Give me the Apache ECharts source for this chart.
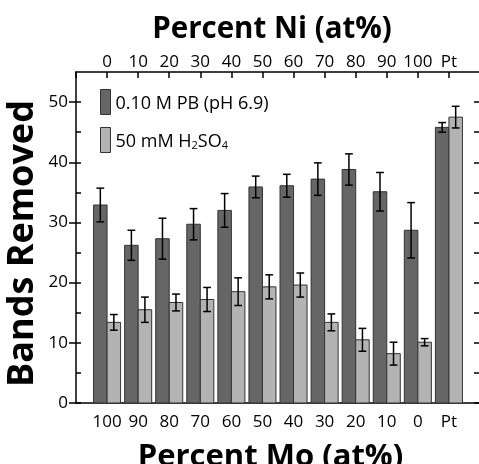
<!DOCTYPE html>
<html><head><meta charset="utf-8">
<script src="https://cdn.jsdelivr.net/npm/echarts@6/dist/echarts.min.js"></script>
<style>html,body{margin:0;padding:0;background:#fff}#c{width:479px;height:464px}</style>
</head><body><div id="c"></div>
<script>
const niLabels = ['0','10','20','30','40','50','60','70','80','90','100','Pt'];
const moLabels = ['100','90','80','70','60','50','40','30','20','10','0','Pt'];
const pbValues = [32.9,26.2,27.3,29.7,32.0,35.9,36.1,37.2,38.8,35.1,28.7,45.8];
const pbErrors = [2.8,2.5,3.4,2.6,2.8,1.8,1.9,2.7,2.6,3.2,4.6,0.8];
const acidValues = [13.4,15.5,16.7,17.2,18.5,19.3,19.6,13.4,10.5,8.2,10.1,47.5];
const acidErrors = [1.3,2.1,1.4,2.0,2.3,2.0,2.0,1.4,1.9,1.9,0.6,1.8];
const yMajorTicks = [0,10,20,30,40,50];
const yAllTicks = [0,5,10,15,20,25,30,35,40,45,50];
const pbName = '0.10 M PB (pH 6.9)';
const acidName = '50 mM H2SO4';

const FONT = 'Open Sans';
const chart = echarts.init(document.getElementById('c'));

function makeRender(side) {
  return function (params, api) {
    const i = api.value(0), v = api.value(1), e = api.value(2);
    const unit = api.size([1, 0])[0];
    const w = unit * 0.435;
    const top = api.coord([i, v]);
    const base = api.coord([i, 0]);
    const x0 = side < 0 ? top[0] - w : top[0];
    const cx = x0 + w / 2;
    const hi = api.coord([i, v + e])[1];
    const lo = api.coord([i, v - e])[1];
    const cap = unit * 0.125;
    const err = { stroke: '#000', lineWidth: 1.5 };
    return {
      type: 'group',
      children: [
        { type: 'rect', shape: { x: x0, y: top[1], width: w, height: base[1] - top[1] },
          style: { fill: api.visual('color'), stroke: '#333', lineWidth: 1 } },
        { type: 'line', shape: { x1: cx, y1: hi, x2: cx, y2: lo }, style: err },
        { type: 'line', shape: { x1: cx - cap, y1: hi, x2: cx + cap, y2: hi }, style: err },
        { type: 'line', shape: { x1: cx - cap, y1: lo, x2: cx + cap, y2: lo }, style: err }
      ]
    };
  };
}

const xCommon = {
  type: 'value', min: -1, max: 12, interval: 1,
  splitLine: { show: false },
  nameMoveOverlap: false,
  axisLine: { show: true, onZero: false, lineStyle: { color: '#000', width: 1.5 } }
};
const yCommon = {
  type: 'value', min: 0, max: 55,
  splitLine: { show: false },
  nameMoveOverlap: false
};

chart.setOption({
  animation: false,
  backgroundColor: '#fff',
  textStyle: { fontFamily: FONT },
  grid: { left: 76, right: -1, top: 72, bottom: 61, containLabel: false, outerBoundsMode: 'none' },
  legend: {
    orient: 'vertical', left: 100, top: 89, itemWidth: 10, itemHeight: 25, itemGap: 12,
    icon: 'rect', padding: 0,
    data: [pbName, acidName],
    itemStyle: { borderColor: '#333', borderWidth: 1 },
    formatter: function (n) {
      return n === acidName ? '{t|50 mM H}{s|2}{t|SO}{s|4}' : '{t|' + n + '}';
    },
    textStyle: {
      fontFamily: FONT, fontSize: 18, color: '#000',
      rich: {
        t: { fontFamily: FONT, fontSize: 18, color: '#000', lineHeight: 22, verticalAlign: 'bottom' },
        s: { fontFamily: FONT, fontSize: 11, color: '#000', lineHeight: 22, verticalAlign: 'bottom', padding: [6, 0, 0, 0] }
      }
    }
  },
  xAxis: [
    Object.assign({}, xCommon, {
      position: 'bottom',
      axisTick: { show: false },
      axisLabel: { fontFamily: FONT, fontSize: 17, color: '#000', margin: 11,
        formatter: v => (v >= 0 && v < moLabels.length ? moLabels[v] : '') },
      name: 'Percent Mo (at%)', nameLocation: 'middle', nameGap: 39,
      nameTextStyle: { fontFamily: FONT, fontSize: 31, fontWeight: 'bold', color: '#000', padding: [0, 15, 0, 0] }
    }),
    Object.assign({}, xCommon, {
      position: 'top',
      axisTick: { show: true, inside: true, length: 6, lineStyle: { color: '#000', width: 1.5 } },
      axisLabel: { fontFamily: FONT, fontSize: 17, color: '#000', margin: 1,
        formatter: v => (v >= 0 && v < niLabels.length ? niLabels[v] : '') },
      name: 'Percent Ni (at%)', nameLocation: 'middle', nameGap: 27,
      nameTextStyle: { fontFamily: FONT, fontSize: 29.5, fontWeight: 'bold', color: '#000', padding: [0, 12, 0, 0] }
    })
  ],
  yAxis: [
    Object.assign({}, yCommon, {
      position: 'left',
      axisLine: { show: true, onZero: false, lineStyle: { color: '#000', width: 1.5 } },
      axisTick: { show: true, inside: false, length: 7, customValues: yMajorTicks, lineStyle: { color: '#000', width: 1.5 } },
      axisLabel: { fontFamily: FONT, fontSize: 17, color: '#000', margin: 8, customValues: yMajorTicks },
      name: 'Bands Removed', nameLocation: 'middle', nameGap: 35,
      nameTextStyle: { fontFamily: FONT, fontSize: 36, fontWeight: 'bold', color: '#000', padding: [0, 12, 0, 0] }
    }),
    Object.assign({}, yCommon, {
      position: 'left',
      axisLine: { show: false, onZero: false },
      axisTick: { show: true, inside: true, length: 5, customValues: yAllTicks, lineStyle: { color: '#000', width: 1.5 } },
      axisLabel: { show: false }
    }),
    Object.assign({}, yCommon, {
      position: 'right',
      axisLine: { show: true, onZero: false, lineStyle: { color: '#000', width: 1.5 } },
      axisTick: { show: true, inside: true, length: 6, customValues: yAllTicks, lineStyle: { color: '#000', width: 1.5 } },
      axisLabel: { show: false }
    })
  ],
  series: [
    {
      name: pbName, type: 'custom', xAxisIndex: 0, yAxisIndex: 0,
      itemStyle: { color: '#666666', borderColor: '#333', borderWidth: 1 },
      renderItem: makeRender(-1),
      encode: { x: 0, y: 1 },
      data: pbValues.map((v, i) => [i, v, pbErrors[i]])
    },
    {
      name: acidName, type: 'custom', xAxisIndex: 0, yAxisIndex: 0,
      itemStyle: { color: '#b3b3b3', borderColor: '#333', borderWidth: 1 },
      renderItem: makeRender(1),
      encode: { x: 0, y: 1 },
      data: acidValues.map((v, i) => [i, v, acidErrors[i]])
    }
  ]
});
</script>
</body></html>
